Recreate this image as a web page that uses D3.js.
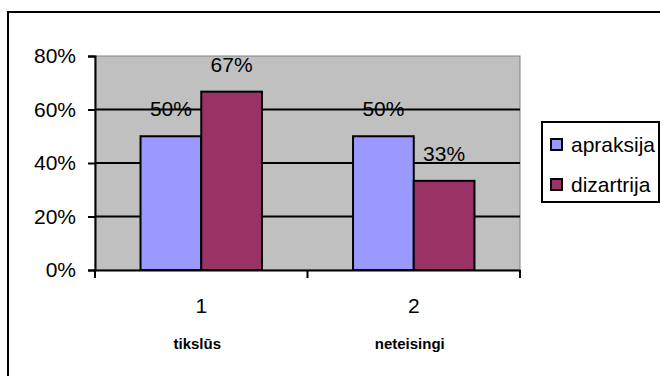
<!DOCTYPE html>
<html><head><meta charset="utf-8">
<script src="https://cdn.jsdelivr.net/npm/d3@7"></script>
<style>body{margin:0;background:#fff}svg{display:block}text{font-family:Arial,"Liberation Sans",sans-serif}</style>
</head><body>
<script>
const categories = ["1", "2"];
const categorySubtitles = ["tikslūs", "neteisingi"];
const seriesNames = ["apraksija", "dizartrija"];
const apraksija = [0.50, 0.50];
const dizartrija = [0.6667, 0.3333];
const yTicks = [0, 0.2, 0.4, 0.6, 0.8];
const colors = ["#9999FF", "#993366"];

const W = 660, H = 376;
const svg = d3.select("body").append("svg").attr("width", W).attr("height", H);

// outer chart border
svg.append("rect").attr("x", 8).attr("y", 12).attr("width", 700).attr("height", 400)
  .attr("fill", "#fff").attr("stroke", "#000").attr("stroke-width", 2);

const plot = {left: 95, right: 520, top: 56, bottom: 270};
const x = d3.scaleBand().domain(categories).range([plot.left, plot.right]);
const y = d3.scaleLinear().domain([0, 0.8]).range([plot.bottom, plot.top]);
const barW = x.bandwidth() / 3.5;

svg.append("rect").attr("x", plot.left).attr("y", plot.top)
  .attr("width", plot.right - plot.left).attr("height", plot.bottom - plot.top)
  .attr("fill", "#C0C0C0").attr("stroke", "#808080").attr("stroke-width", 1);

// gridlines
svg.append("g").selectAll("line").data(yTicks.filter(d => d > 0 && d < 0.8)).join("line")
  .attr("x1", plot.left).attr("x2", plot.right)
  .attr("y1", d => y(d)).attr("y2", d => y(d))
  .attr("stroke", "#000").attr("stroke-width", 2);

const series = [apraksija, dizartrija];
series.forEach((vals, si) => {
  svg.append("g").selectAll("rect").data(vals).join("rect")
    .attr("x", (d, i) => x(categories[i]) + x.bandwidth() / 2 - barW + si * barW)
    .attr("y", d => y(d))
    .attr("width", barW)
    .attr("height", d => y(0) - y(d))
    .attr("fill", colors[si]).attr("stroke", "#000").attr("stroke-width", 2);
  svg.append("g").selectAll("text").data(vals).join("text")
    .attr("x", (d, i) => x(categories[i]) + x.bandwidth() / 2 - barW / 2 + si * barW)
    .attr("y", d => y(d) - 20)
    .attr("text-anchor", "middle").attr("font-size", 21).attr("fill", "#000")
    .text(d => d3.format(".0%")(d));
});

// y axis
const yAxis = d3.axisLeft(y).tickValues(yTicks).tickFormat(d3.format(".0%")).tickSize(7).tickPadding(12);
const gy = svg.append("g").attr("transform", `translate(${plot.left},0)`).call(yAxis);
gy.select(".domain").attr("stroke", "#000").attr("stroke-width", 2);
gy.selectAll(".tick line").attr("stroke", "#000").attr("stroke-width", 2);
gy.selectAll(".tick text").attr("font-size", 21).attr("font-family", "Arial, 'Liberation Sans', sans-serif").attr("fill", "#000");

// x axis
const xAxis = d3.axisBottom(x).tickSize(0).tickPadding(0).tickFormat(() => "");
const gx = svg.append("g").attr("transform", `translate(0,${plot.bottom})`).call(xAxis);
gx.select(".domain").attr("stroke", "#000").attr("stroke-width", 2);
const boundaries = [plot.left, ...categories.map(c => x(c) + x.bandwidth())];
gx.selectAll("line.sep").data(boundaries).join("line").attr("class", "sep")
  .attr("x1", d => d).attr("x2", d => d).attr("y1", 0).attr("y2", 8)
  .attr("stroke", "#000").attr("stroke-width", 2);
svg.append("g").selectAll("text").data(categories).join("text")
  .attr("x", d => x(d) + x.bandwidth() / 2).attr("y", 313)
  .attr("text-anchor", "middle").attr("font-size", 21).text(d => d);
svg.append("g").selectAll("text").data(categorySubtitles).join("text")
  .attr("x", (d, i) => x(categories[i]) + x.bandwidth() / 2 - 4).attr("y", 349)
  .attr("text-anchor", "middle").attr("font-size", 15).attr("font-weight", "bold").text(d => d);

// legend
const lg = svg.append("g");
lg.append("rect").attr("x", 542).attr("y", 122).attr("width", 117).attr("height", 80)
  .attr("fill", "#fff").attr("stroke", "#000").attr("stroke-width", 2);
seriesNames.forEach((n, i) => {
  lg.append("rect").attr("x", 551).attr("y", 139 + i * 40).attr("width", 11).attr("height", 11)
    .attr("fill", colors[i]).attr("stroke", "#000").attr("stroke-width", 2);
  lg.append("text").attr("x", 571).attr("y", 152 + i * 40).attr("font-size", 21).text(n);
});
</script>
</body></html>
